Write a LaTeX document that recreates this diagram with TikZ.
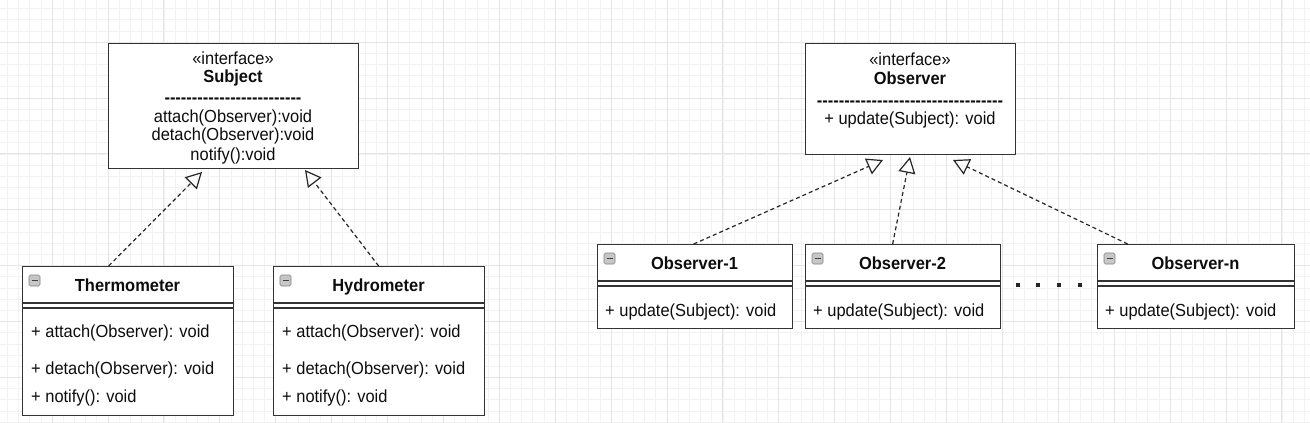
\documentclass[tikz,border=0pt]{standalone}
\usepackage{fontspec}
\setmainfont{Liberation Sans}[FakeStretch=0.94]
\usetikzlibrary{arrows.meta}
\newcommand\mydashes[1]{\foreach \i in {1,...,#1}{\hbox{-}}}
\tikzset{
  gridminor/.style={draw=black!5, line width=0.6pt},
  gridmajor/.style={draw=black!10, line width=0.8pt},
  umlbox/.style={draw=black!80, line width=1.3pt, fill=white, rectangle, inner sep=0pt},
  txt/.style={inner sep=0pt, text height=12.5pt, text depth=3.7pt, font=\fontsize{17.5}{20}\selectfont, text=black!95},
  boldtxt/.style={txt, font=\fontsize{17.5}{20}\selectfont\bfseries},
  realize/.style={draw=black!85, line width=1.2pt, dash pattern=on 4pt off 3pt,
    -{Triangle[open, length=16pt, width=17pt, line width=1.2pt]}},
  iconbox/.style={draw=black!50, fill=black!22, rounded corners=1.5pt, line width=0.6pt},
  iconminus/.style={draw=black!75, line width=1.4pt},
  sepline/.style={draw=black!80, line width=1.2pt},
  dotmark/.style={fill=black!85, minimum size=4pt, inner sep=0pt, rectangle},
}
% name, left, top, width, height, title
\newcommand\umlclass[6]{%
  \node[umlbox, anchor=north west, minimum width=#4pt, minimum height=#5pt] (#1) at (#2,#3) {};
  \draw[iconbox] ({#2+7},{#3+9}) rectangle ++(11,11);
  \draw[iconminus] ({#2+9.5},{#3+14.5}) -- ++(6,0);
  \node[boldtxt] (#1-title) at ({#2+#4/2},{#3+21}) {#6};
  \draw[sepline] ({#2},{#3+37}) -- ++(#4,0);
  \draw[sepline] ({#2},{#3+42}) -- ++(#4,0);
}
\begin{document}
\begin{tikzpicture}[x=1pt,y=-1pt]
\useasboundingbox (0,0) rectangle (1310,423);
\fill[white] (0,0) rectangle (1310,423);
\begin{scope}
\clip (0,0) rectangle (1310,423);
\foreach \i in {0,...,118} {\draw[gridminor] ({-3.9+\i*11.18},0) -- ++(0,423);}
\foreach \i in {0,...,40} {\draw[gridminor] (0,{-13.9+\i*11.18}) -- ++(1310,0);}
\foreach \i in {0,...,24} {\draw[gridmajor] ({-3.9+\i*55.9},0) -- ++(0,423);}
\foreach \i in {0,...,8} {\draw[gridmajor] (0,{-13.9+\i*55.9}) -- ++(1310,0);}
\end{scope}

% Subject interface
\node[umlbox, anchor=north west, minimum width=250pt, minimum height=125pt] (subject) at (108,43) {};
\node[txt] (subject-st) at (233,60) {«interface»};
\node[boldtxt] (subject-name) at (233,78) {Subject};
\node[boldtxt] (subject-dash) at (233,99) {\mydashes{25}};
\node[txt] (subject-m1) at (233,118) {attach(Observer):void};
\node[txt] (subject-m2) at (233,136) {detach(Observer):void};
\node[txt] (subject-m3) at (233,156) {notify():void};

% Observer interface
\node[umlbox, anchor=north west, minimum width=210pt, minimum height=111pt] (observer) at (805,43) {};
\node[txt] (observer-st) at (910,61) {«interface»};
\node[boldtxt] (observer-name) at (910,80) {Observer};
\node[boldtxt] (observer-dash) at (910,102) {\mydashes{34}};
\node[txt] (observer-m1) at (910,120) {+ update(Subject): void};

% Concrete subjects
\umlclass{thermo}{22}{266}{211}{149}{Thermometer}
\node[txt, anchor=west] (thermo-m1) at (31,333) {+ attach(Observer): void};
\node[txt, anchor=west] (thermo-m2) at (31,370) {+ detach(Observer): void};
\node[txt, anchor=west] (thermo-m3) at (31,398) {+ notify(): void};

\umlclass{hydro}{273}{266}{211}{149}{Hydrometer}
\node[txt, anchor=west] (hydro-m1) at (282,333) {+ attach(Observer): void};
\node[txt, anchor=west] (hydro-m2) at (282,370) {+ detach(Observer): void};
\node[txt, anchor=west] (hydro-m3) at (282,398) {+ notify(): void};

% Concrete observers
\umlclass{obs1}{597}{244}{195}{84}{Observer-1}
\node[txt, anchor=west] (obs1-m1) at (605,312) {+ update(Subject): void};
\umlclass{obs2}{805}{244}{195}{84}{Observer-2}
\node[txt, anchor=west] (obs2-m1) at (813,312) {+ update(Subject): void};
\umlclass{obsn}{1097}{244}{197}{84}{Observer-n}
\node[txt, anchor=west] (obsn-m1) at (1105,312) {+ update(Subject): void};

% ellipsis dots
\node[dotmark] (d1) at (1018,285) {};
\node[dotmark] (d2) at (1038,285) {};
\node[dotmark] (d3) at (1059,285) {};
\node[dotmark] (d4) at (1080,285) {};

% arrow tips
\coordinate (t1) at (202,172);
\coordinate (t2) at (305,170);
\coordinate (t3) at (883,160);
\coordinate (t4) at (910,157);
\coordinate (t5) at (953,160);

\draw[realize] ([xshift=-19.5pt]thermo.north) -- (t1);
\draw[realize] ([xshift=-0.5pt]hydro.north) -- (t2);
\draw[realize] ([xshift=-1.5pt]obs1.north) -- (t3);
\draw[realize] ([xshift=-10.5pt]obs2.north) -- (t4);
\draw[realize] ([xshift=-68.5pt]obsn.north) -- (t5);
\end{tikzpicture}
\end{document}
